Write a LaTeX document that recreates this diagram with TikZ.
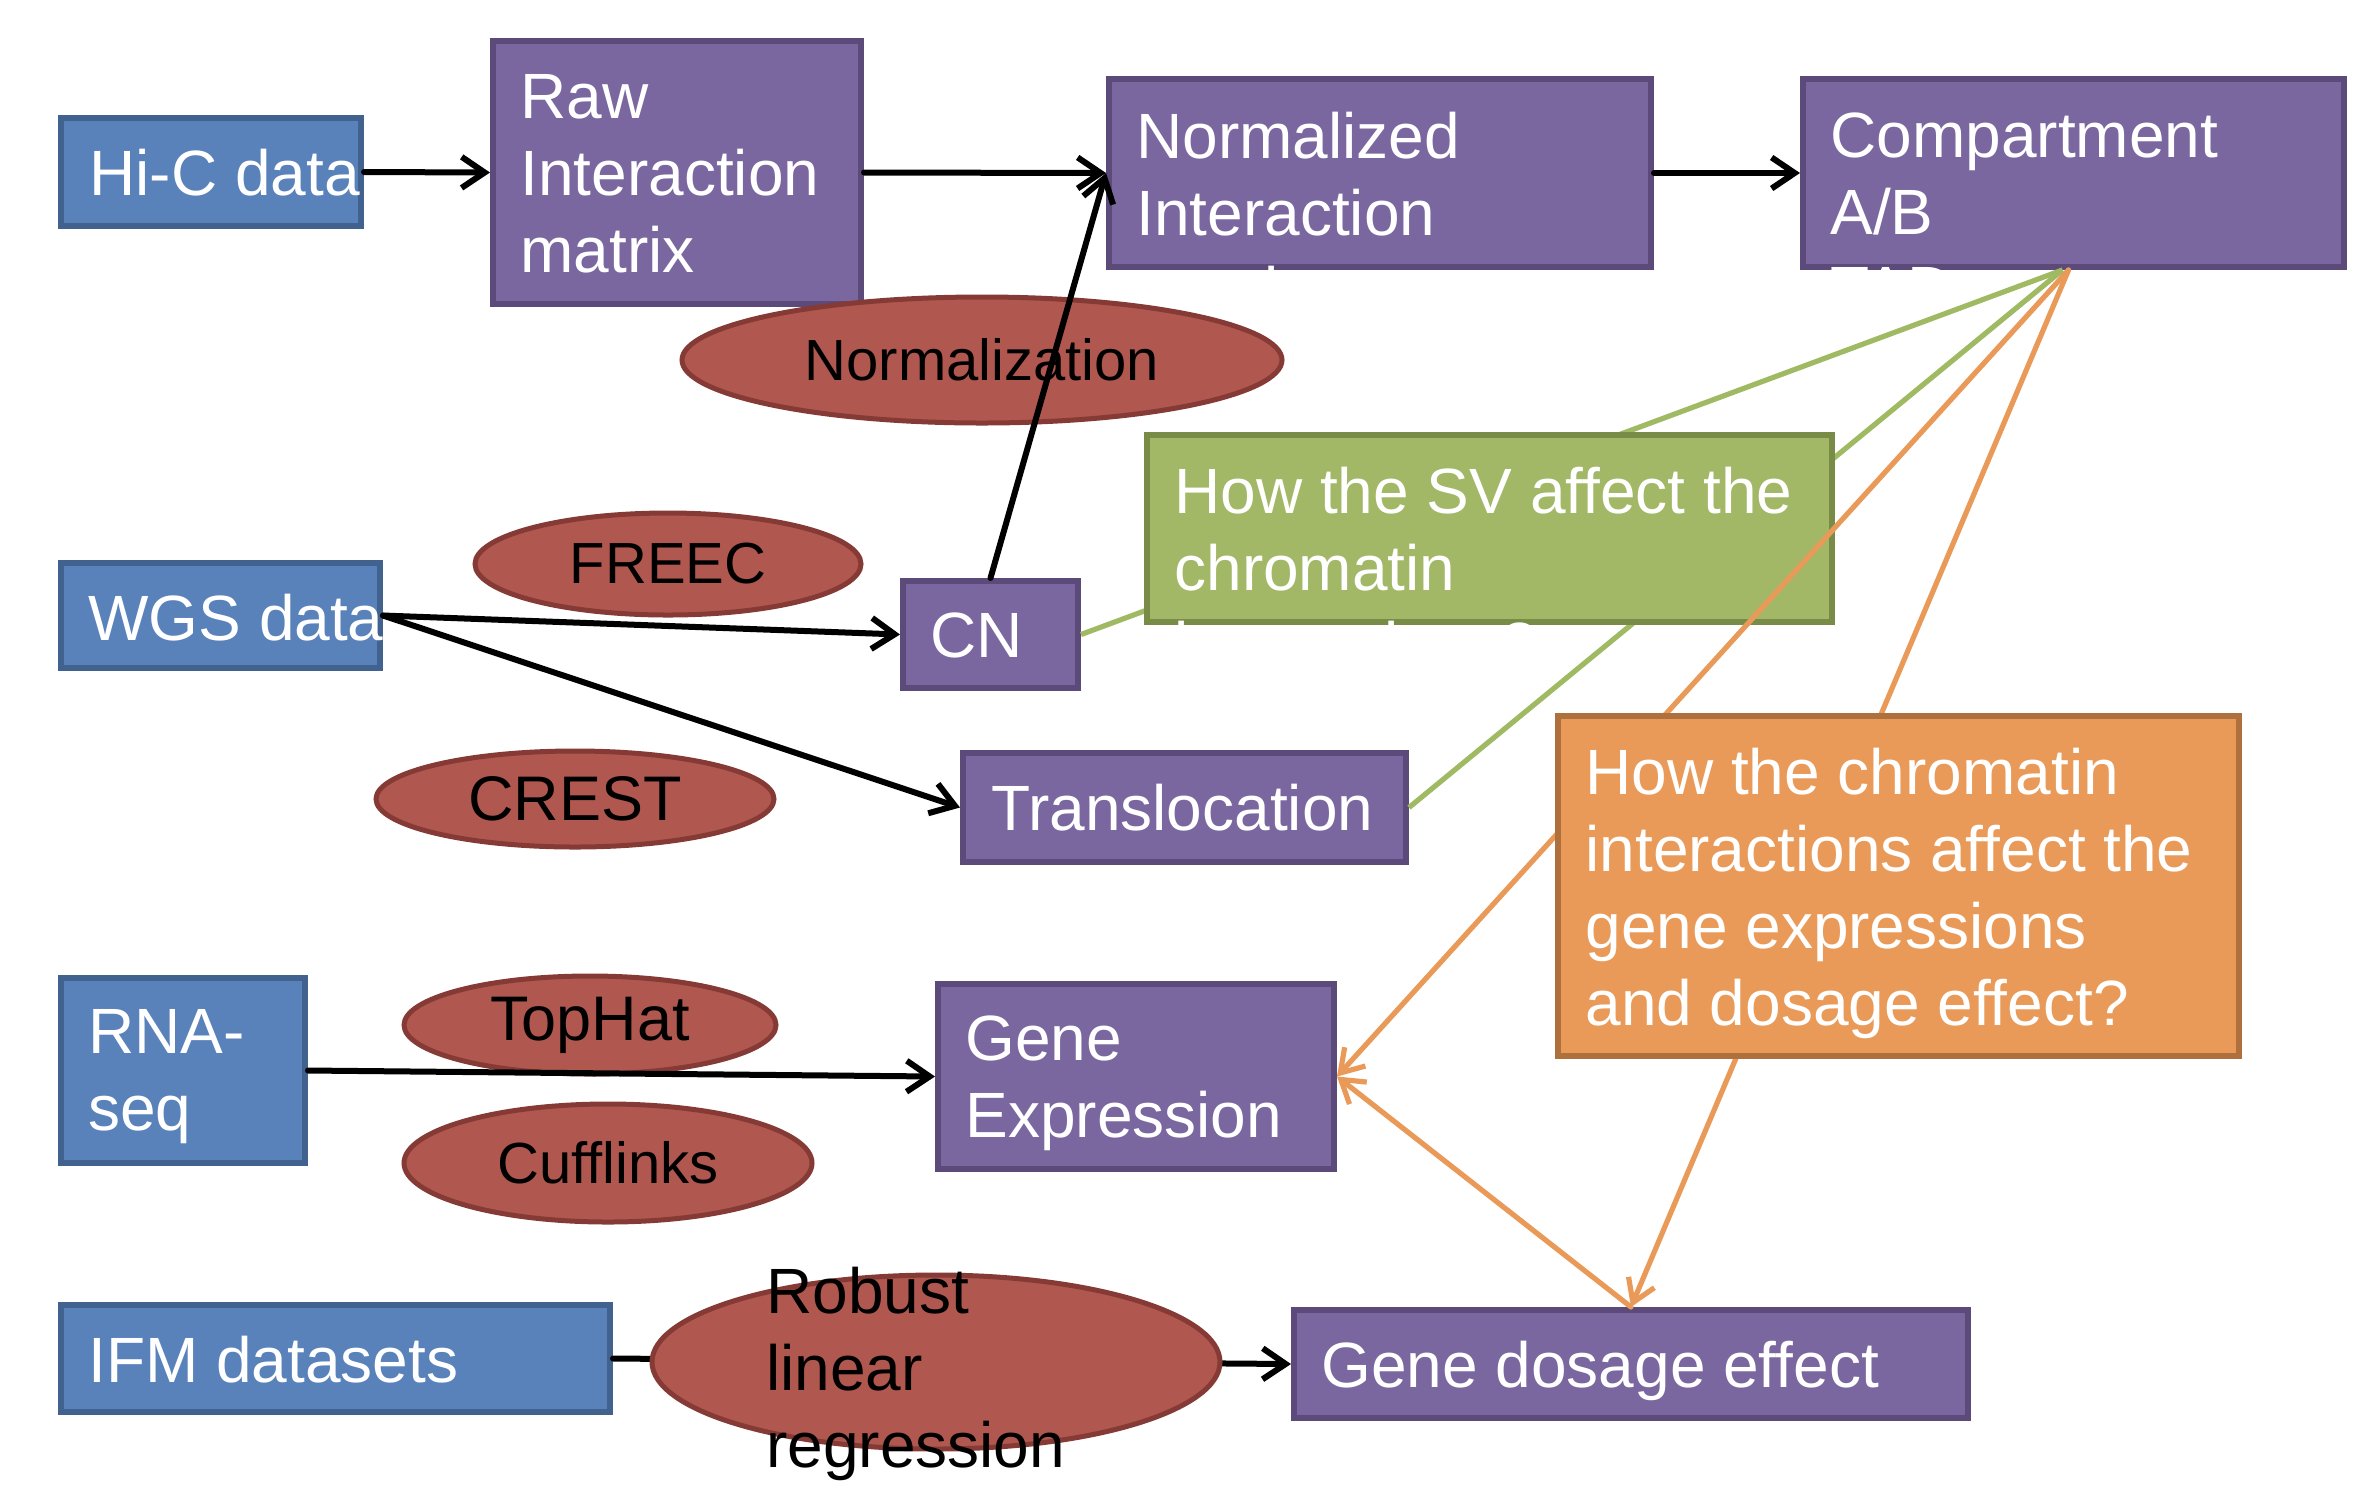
\documentclass[tikz,border=0pt]{standalone}
\usepackage{fontspec}
\setmainfont{Liberation Sans}
\usetikzlibrary{arrows.meta,shapes.geometric,fit,calc}
\definecolor{purpF}{HTML}{7B67A0}
\definecolor{purpD}{HTML}{5C4A7A}
\definecolor{blueF}{HTML}{5A82BA}
\definecolor{blueD}{HTML}{41628E}
\definecolor{redF}{HTML}{B0574F}
\definecolor{redD}{HTML}{863A35}
\definecolor{grnF}{HTML}{A2B867}
\definecolor{grnD}{HTML}{788C48}
\definecolor{grnL}{HTML}{9FBA62}
\definecolor{orgF}{HTML}{E99A58}
\definecolor{orgD}{HTML}{AE713D}
\definecolor{orgL}{HTML}{E99A58}
\begin{document}
\begin{tikzpicture}[x=0.5pt,y=-0.5pt,
  box/.style={rectangle, inner sep=0pt, line width=3pt},
  pbox/.style={box, fill=purpF, draw=purpD},
  bbox/.style={box, fill=blueF, draw=blueD},
  gbox/.style={box, fill=grnF, draw=grnD},
  obox/.style={box, fill=orgF, draw=orgD},
  wtxt/.style={anchor=north west, inner sep=0pt, align=left, text=white, font=\fontsize{32pt}{38.5pt}\selectfont},
  ell/.style={ellipse, inner sep=0pt, fill=redF, draw=redD, line width=2.5pt},
  etxt/.style={font=\fontsize{29pt}{35pt}\selectfont},
  etxtb/.style={font=\fontsize{31.5pt}{38pt}\selectfont},
  arr/.style={line width=3pt, line cap=round, -{Straight Barb[length=11.5pt,width=15.5pt]}},
  gl/.style={line width=2.6pt, draw=grnL},
  ol/.style={line width=2.6pt, draw=orgL},
  oarr/.style={ol, line cap=round, -{Straight Barb[length=11pt,width=14pt]}},
]
\useasboundingbox (0,0) rectangle (2380,1490);

% boxes
\node[bbox, fit={(61,118) (361,226)}] (hic) {};
\node[wtxt] (hict) at ([shift={(31,34)}]hic.north west) {Hi-C data};
\node[pbox, fit={(493,41) (861,304)}] (raw) {};
\node[wtxt] (rawt) at ([shift={(30,36)}]raw.north west) {Raw\\Interaction\\matrix};
\node[pbox, fit={(1109,79) (1651,267)}] (norm) {};
\node[wtxt] (normt) at ([shift={(30,36)}]norm.north west) {Normalized\\Interaction\\matrix};
\node[pbox, fit={(1803,79) (2344,267)}] (comp) {};
\node[wtxt] (compt) at ([shift={(30,36)}]comp.north west) {Compartment\\A/B\\TAD};
\node[bbox, fit={(61,563) (380,668)}] (wgs) {};
\node[wtxt] (wgst) at ([shift={(30,34)}]wgs.north west) {WGS data};
\node[pbox, fit={(903,581) (1078,688)}] (cn) {};
\node[wtxt] (cnt) at ([shift={(30,34)}]cn.north west) {CN};
\node[pbox, fit={(963,753) (1406,862)}] (trans) {};
\node[wtxt] (transt) at ([shift={(31,34)}]trans.north west) {Translocation};
\node[bbox, fit={(61,978) (305,1163)}] (rna) {};
\node[wtxt] (rnat) at ([shift={(30,34)}]rna.north west) {RNA-\\seq};
\node[pbox, fit={(938,984) (1334,1169)}] (gexp) {};
\node[wtxt] (gexpt) at ([shift={(30,34)}]gexp.north west) {Gene\\Expression};
\node[bbox, fit={(61,1305) (610,1412)}] (ifm) {};
\node[wtxt] (ifmt) at ([shift={(30,34)}]ifm.north west) {IFM datasets};
\node[pbox, fit={(1294,1310) (1968,1418)}] (dose) {};
\node[wtxt] (doset) at ([shift={(30,34)}]dose.north west) {Gene dosage effect};

% ellipses drawn below the arrows
\node[ell, etxt, minimum width=300pt, minimum height=63pt] (normE) at (982,360) {Normalization};
\node[ell, etxt, minimum width=193pt, minimum height=51pt] (freecE) at (668,564) {FREEC};
\node[ell, etxtb, minimum width=199pt, minimum height=48pt] (crestE) at (575,799) {CREST};
\node[ell, etxtb, minimum width=186pt, minimum height=49pt] (tophatE) at (590,1025) {TopHat};
\node[ell, etxt, minimum width=204pt, minimum height=59pt] (cuffE) at (608,1163) {Cufflinks};

% black arrows
\draw[arr] (hic.east) -- (raw.west);
\draw[arr] (raw.east) -- (norm.west);
\draw[arr] (cn.north) -- (norm.west);
\draw[arr] (norm.east) -- (comp.west);
\draw[arr] (wgs.east) -- (cn.west);
\draw[arr] (wgs.east) -- (trans.west);
\draw[arr] (rna.east) -- (gexp.west);
\draw[arr] (ifm.east) -- (dose.west);

% robust regression ellipse over the IFM line
\node[ell, minimum width=284pt, minimum height=87pt] (robE) at (936,1362) {};
\node[anchor=north west, inner sep=0pt, align=left, font=\fontsize{32pt}{38.5pt}\selectfont] (robT) at (766,1267) {Robust\\linear\\regression};

% green connectors and question box
\coordinate (cgs) at ([xshift=-5.5pt]comp.south);
\coordinate (cos) at ([xshift=-2.5pt]comp.south);
\draw[gl] (cgs) -- (cn.east);
\draw[gl] (cgs) -- (trans.east);
\node[gbox, fit={(1147,435) (1832,622)}] (sv) {};
\node[wtxt] (svt) at ([shift={(30,35)}]sv.north west) {How the SV affect the\\chromatin\\interactions?};

% orange connectors and question box
\draw[oarr] (cos) -- (gexp.east);
\draw[oarr] (cos) -- (dose.north);
\draw[oarr] (dose.north) -- (gexp.east);
\node[obox, fit={(1558,716) (2239,1056)}] (q) {};
\node[wtxt] (qt) at ([shift={(30,35)}]q.north west) {How the chromatin\\interactions affect the\\gene expressions\\and dosage effect?};
\end{tikzpicture}
\end{document}
